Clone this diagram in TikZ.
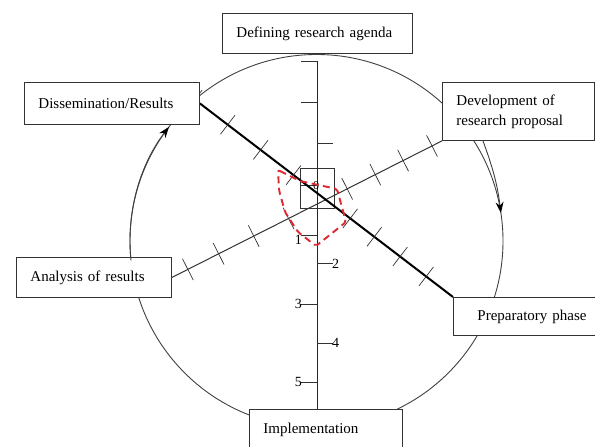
\documentclass[tikz,border=0pt]{standalone}
\usepackage{fontspec}
\setmainfont{Liberation Serif}
\usetikzlibrary{calc,arrows.meta}
\definecolor{dashred}{RGB}{222,40,50}
\begin{document}
\begin{tikzpicture}[x=1pt,y=1pt,
  box/.style={draw=black!80, line width=0.9pt, fill=white, rectangle, anchor=north west,
    inner ysep=0pt, inner xsep=14pt, align=left, font=\fontsize{15}{20}\selectfont},
  ringline/.style={draw=black!75, line width=0.9pt},
  heavyline/.style={draw=black, line width=2pt},
  lightline/.style={draw=black!80, line width=1pt},
  axisline/.style={draw=black!85, line width=1pt},
  tk/.style={draw=black!80, line width=0.7pt},
  axlab/.style={inner sep=0pt, font=\fontsize{14}{16}\selectfont},
  reddash/.style={draw=dashred, line width=1.9pt, dash pattern=on 7pt off 4.5pt},
  tip/.style={-{Stealth[length=11pt,width=8pt,black]}}
]
\useasboundingbox (0,0) rectangle (595,447);
\clip (0,0) rectangle (595,447);

% ring
\coordinate (ctr) at (316.5,206);
\draw[ringline] (ctr) circle[radius=186.5];

% boxes (positions only, redrawn later on top)
\path (222,434) node[box, text width=162pt, minimum height=40pt] (def) {Defining research agenda};
\path (24,365) node[box, text width=147pt, minimum height=42pt] (diss) {Dissemination/Results};
\path (442,365) node[box, text width=124pt, minimum height=58pt] (dev) {Development of\\research proposal};
\path (16,190) node[box, text width=127pt, minimum height=40pt] (anal) {Analysis of results};
\path (453,150) node[box, inner xsep=24pt, text width=110pt, minimum height=38pt] (prep) {Preparatory phase};
\path (249,38) node[box, text width=125pt, minimum height=40pt] (impl) {Implementation};

% vertical axis
\coordinate (axtop) at (317,386);
\coordinate (axbot) at (317,38);
\draw[axisline] (axtop) -- (axbot);
\foreach \yy in {386,345,262,212,143,65} \draw[tk] (317,\yy) -- ++(-16,0);
\foreach \yy in {304,184,104} \draw[tk] (317,\yy) -- ++(16,0);
\node[axlab, font=\fontsize{12}{14}\selectfont] (l0) at (316,261) {0};
\node[axlab, anchor=east] (l1) at (302,207) {1};
\node[axlab, anchor=west] (l2) at (332,183) {2};
\node[axlab, anchor=east] (l3) at (302,143) {3};
\node[axlab, anchor=west] (l4) at (332,104) {4};
\node[axlab, anchor=east] (l5) at (302,65) {5};

% small square at the centre
\node[draw=black!80, line width=0.9pt, minimum width=34pt, minimum height=40pt, inner sep=0pt] (sq) at (317,259) {};

% diagonal lines with ticks
\draw[lightline] (anal.east) -- (dev.south west);
\foreach \t in {0.059,0.173,0.303,0.432,0.649,0.753,0.856,0.963}
  \draw[tk] ($(anal.east)!\t!(dev.south west)!12pt!90:(dev.south west)$) --
            ($(anal.east)!\t!(dev.south west)!12pt!-90:(dev.south west)$);
\draw[heavyline] (diss.east) -- (prep.north west);
\foreach \t in {-0.02,0.110,0.240,0.370,0.594,0.689,0.791,0.894}
  \draw[tk] ($(diss.east)!\t!(prep.north west)!12pt!90:(prep.north west)$) --
            ($(diss.east)!\t!(prep.north west)!12pt!-90:(prep.north west)$);

% red dashed region
\draw[reddash, rounded corners=2pt] (278,277) -- (300,266) -- (337,258) -- (346,225) -- (316,201) -- (298,215) -- (285,235) -- (279,257) -- cycle;

% redraw boxes on top
\foreach \n in {def,diss,dev,anal,prep,impl}
  \draw[draw=black!80, line width=0.9pt, fill=white] (\n.south west) rectangle (\n.north east);
\path (222,434) node[box, draw=none, fill=none, text width=162pt, minimum height=40pt] {Defining research agenda};
\path (24,365) node[box, draw=none, fill=none, text width=147pt, minimum height=42pt] {Dissemination/Results};
\path (442,365) node[box, draw=none, fill=none, text width=124pt, minimum height=58pt] {Development of\\research proposal};
\path (16,190) node[box, draw=none, fill=none, text width=127pt, minimum height=40pt] {Analysis of results};
\path (453,150) node[box, draw=none, fill=none, inner xsep=24pt, text width=110pt, minimum height=38pt] {Preparatory phase};
\path (249,38) node[box, draw=none, fill=none, text width=125pt, minimum height=40pt] {Implementation};

% arrows on the ring
\draw[ringline, tip] ($(ctr)+(186:186.5)$) arc[start angle=186, end angle=142.3, radius=186.5];
\draw[ringline, tip] ($(dev.south west)+(41,0)$) to[out=-70, in=97] (500.9,234);
\end{tikzpicture}
\end{document}
